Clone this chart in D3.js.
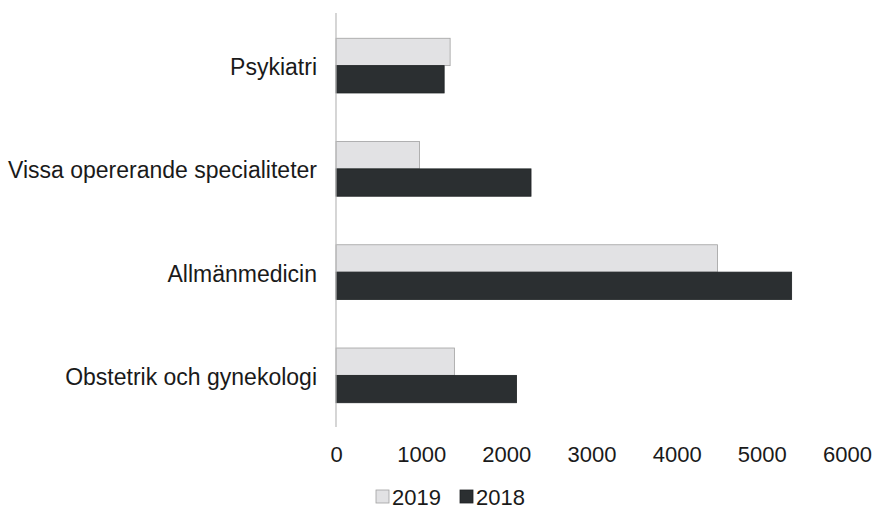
<!DOCTYPE html>
<html>
<head>
<meta charset="utf-8">
<script src="https://cdn.jsdelivr.net/npm/d3@7"></script>
<style>
  html, body { margin: 0; padding: 0; background: #ffffff; }
  svg { display: block; }
  text { font-family: "Liberation Sans", Arial, sans-serif; fill: #1a1a1a; }
</style>
</head>
<body>
<svg id="chart" width="878" height="514"></svg>
<script>
// Specialties, listed top to bottom
const categories = ["Psykiatri", "Vissa opererande specialiteter", "Allmänmedicin", "Obstetrik och gynekologi"];
const seriesNames = ["2019", "2018"];
const values2019 = [1340, 980, 4480, 1390];
const values2018 = [1270, 2290, 5350, 2120];
const xTicks = [0, 1000, 2000, 3000, 4000, 5000, 6000];

const colors = { "2019": "#e2e2e4", "2018": "#2b2f31" };
const strokes = { "2019": "#a0a0a0", "2018": "#1e2224" };

const svg = d3.select("#chart");

const x = d3.scaleLinear().domain([0, 6000]).range([336, 847]);
const y = d3.scaleBand().domain(categories).range([14, 427]).paddingInner(0.47).paddingOuter(0.235);
const ySub = d3.scaleBand().domain(seriesNames).range([0, y.bandwidth()]);

const rows = categories.map((c, i) => ({ category: c, "2019": values2019[i], "2018": values2018[i] }));

// Bars
const groups = svg.append("g").selectAll("g")
  .data(rows).join("g")
  .attr("transform", d => `translate(0,${y(d.category)})`);

groups.selectAll("rect")
  .data(d => seriesNames.map(s => ({ series: s, value: d[s] })))
  .join("rect")
  .attr("x", x(0))
  .attr("y", d => ySub(d.series))
  .attr("width", d => x(d.value) - x(0))
  .attr("height", ySub.bandwidth())
  .attr("fill", d => colors[d.series])
  .attr("stroke", d => strokes[d.series])
  .attr("stroke-width", 0.8);

// Vertical category axis line
svg.append("line")
  .attr("x1", x(0)).attr("x2", x(0))
  .attr("y1", 13).attr("y2", 427)
  .attr("stroke", "#bababa").attr("stroke-width", 1.2);

// Category labels
const yAxis = d3.axisLeft(y).tickSize(0).tickPadding(19);
const gy = svg.append("g").attr("transform", `translate(${x(0)},2)`).call(yAxis);
gy.select(".domain").remove();
gy.selectAll("text").style("font-size", "23px").attr("fill", "#1a1a1a")
  .style("font-family", "'Liberation Sans', Arial, sans-serif");

// Value axis labels
const xAxis = d3.axisBottom(x).tickValues(xTicks).tickSize(0).tickPadding(0).tickFormat(d3.format("d"));
const gx = svg.append("g").attr("transform", "translate(0,446)").call(xAxis);
gx.select(".domain").remove();
gx.selectAll("text").style("font-size", "22px").attr("fill", "#1a1a1a").attr("dy", "0.71em")
  .style("font-family", "'Liberation Sans', Arial, sans-serif");

// Legend
const legendItems = [
  { name: "2019", x: 376 },
  { name: "2018", x: 460 }
];
const legend = svg.append("g").selectAll("g").data(legendItems).join("g")
  .attr("transform", d => `translate(${d.x},490)`);
legend.append("rect")
  .attr("x", 0).attr("y", 0).attr("width", 13).attr("height", 13)
  .attr("fill", d => colors[d.name]).attr("stroke", d => strokes[d.name]).attr("stroke-width", 0.8);
legend.append("text")
  .attr("x", 16).attr("y", 14.5)
  .style("font-size", "22px")
  .text(d => d.name);
</script>
</body>
</html>
